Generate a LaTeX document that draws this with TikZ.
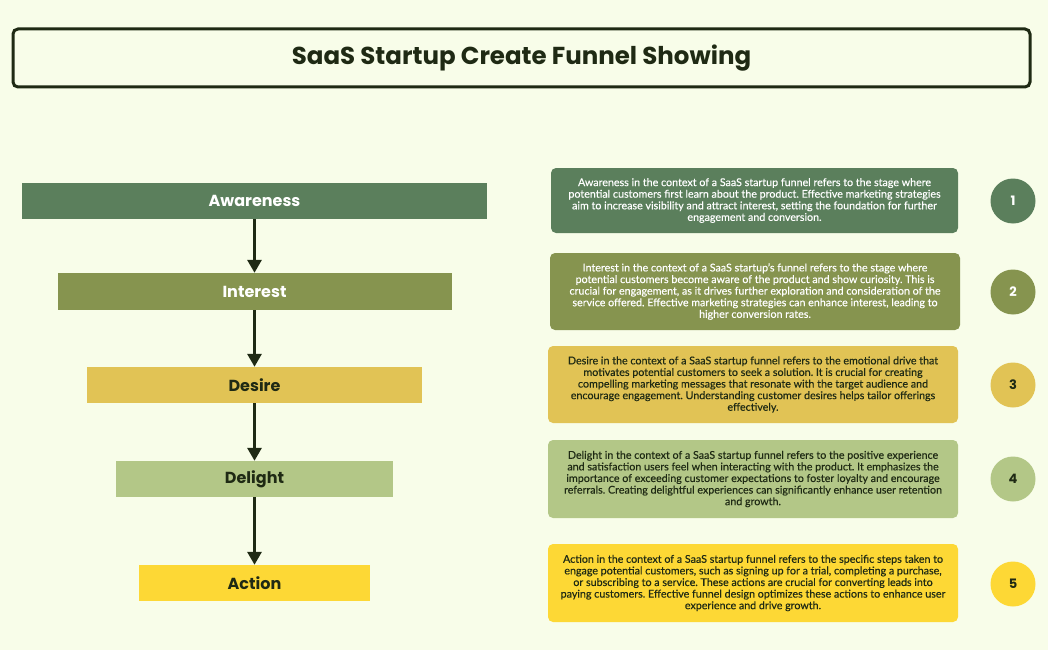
\documentclass[tikz,border=0pt]{standalone}
\usepackage{fontspec}
\setmainfont{Lato}
\newfontfamily\bodyfont{Lato}[FakeBold=0.35]
\newfontfamily\headfont{Poppins}
\usetikzlibrary{arrows.meta}
\definecolor{bg}{HTML}{F8FDE9}
\definecolor{ink}{HTML}{1F2A14}
\definecolor{cA}{HTML}{5B7F5C}
\definecolor{cB}{HTML}{86944F}
\definecolor{cC}{HTML}{E1C355}
\definecolor{cD}{HTML}{B3C787}
\definecolor{cE}{HTML}{FDD835}
\frenchspacing
\begin{document}
\begin{tikzpicture}[x=1pt,y=-1pt,
  stage/.style={draw=none,minimum height=36pt,inner sep=0pt,font=\headfont\bfseries\fontsize{16}{20}\selectfont},
  desc/.style={rounded corners=5pt,inner sep=0pt,align=center,font=\bodyfont\fontsize{10.7}{11.6}\selectfont},
  num/.style={circle,minimum size=45pt,inner sep=0pt,font=\headfont\bfseries\fontsize{13}{15}\selectfont},
  flow/.style={draw=ink,line width=3pt,-{Triangle[width=14pt,length=13pt]}}]
\useasboundingbox[fill=bg] (0,0) rectangle (1048,650);
\node[draw=ink,line width=3pt,rounded corners=5pt,minimum width=1017pt,minimum height=58pt,inner sep=0pt,font=\headfont\bfseries\fontsize{24.5}{30}\selectfont,text=ink] (title) at (521.5,58) {\raisebox{-2pt}{SaaS Startup Create Funnel Showing}};
% stages
\node[stage,fill=cA,text=white,minimum width=465pt] (s1) at (254.5,201) {Awareness};
\node[stage,fill=cB,text=white,minimum width=394pt,minimum height=37pt] (s2) at (254.5,291.5) {Interest};
\node[stage,fill=cC,text=ink,minimum width=335pt] (s3) at (254.5,385) {Desire};
\node[stage,fill=cD,text=ink,minimum width=277pt] (s4) at (254.5,479) {Delight};
\node[stage,fill=cE,text=ink,minimum width=231pt] (s5) at (254.5,583) {Action};
\draw[flow] (s1.south) -- (s2.north);
\draw[flow] (s2.south) -- (s3.north);
\draw[flow] (s3.south) -- (s4.north);
\draw[flow] (s4.south) -- (s5.north);
% descriptions
\node[desc,fill=cA,text=white,minimum width=407pt,minimum height=65pt] (d1) at (754.5,200.5) {Awareness in the context of a SaaS startup funnel refers to the stage where\\potential customers first learn about the product. Effective marketing strategies\\aim to increase visibility and attract interest, setting the foundation for further\\engagement and conversion.};
\node[desc,fill=cB,text=white,minimum width=410pt,minimum height=77pt] (d2) at (755,291.5) {Interest in the context of a SaaS startup’s funnel refers to the stage where\\potential customers become aware of the product and show curiosity. This is\\crucial for engagement, as it drives further exploration and consideration of the\\service offered. Effective marketing strategies can enhance interest, leading to\\higher conversion rates.};
\node[desc,fill=cC,text=ink,minimum width=410pt,minimum height=77pt] (d3) at (753,384.5) {Desire in the context of a SaaS startup funnel refers to the emotional drive that\\motivates potential customers to seek a solution. It is crucial for creating\\compelling marketing messages that resonate with the target audience and\\encourage engagement. Understanding customer desires helps tailor offerings\\effectively.};
\node[desc,fill=cD,text=ink,minimum width=410pt,minimum height=78pt] (d4) at (753,479) {Delight in the context of a SaaS startup funnel refers to the positive experience\\and satisfaction users feel when interacting with the product. It emphasizes the\\importance of exceeding customer expectations to foster loyalty and encourage\\referrals. Creating delightful experiences can significantly enhance user retention\\and growth.};
\node[desc,fill=cE,text=ink,minimum width=410pt,minimum height=78pt] (d5) at (753,583) {Action in the context of a SaaS startup funnel refers to the specific steps taken to\\engage potential customers, such as signing up for a trial, completing a purchase,\\or subscribing to a service. These actions are crucial for converting leads into\\paying customers. Effective funnel design optimizes these actions to enhance user\\experience and drive growth.};
% numbers
\node[num,fill=cA,text=white] (n1) at (1013,201) {1};
\node[num,fill=cB,text=white] (n2) at (1013,292) {2};
\node[num,fill=cC,text=ink] (n3) at (1013,385) {3};
\node[num,fill=cD,text=ink] (n4) at (1013,479) {4};
\node[num,fill=cE,text=ink] (n5) at (1013,584) {5};
\end{tikzpicture}
\end{document}
